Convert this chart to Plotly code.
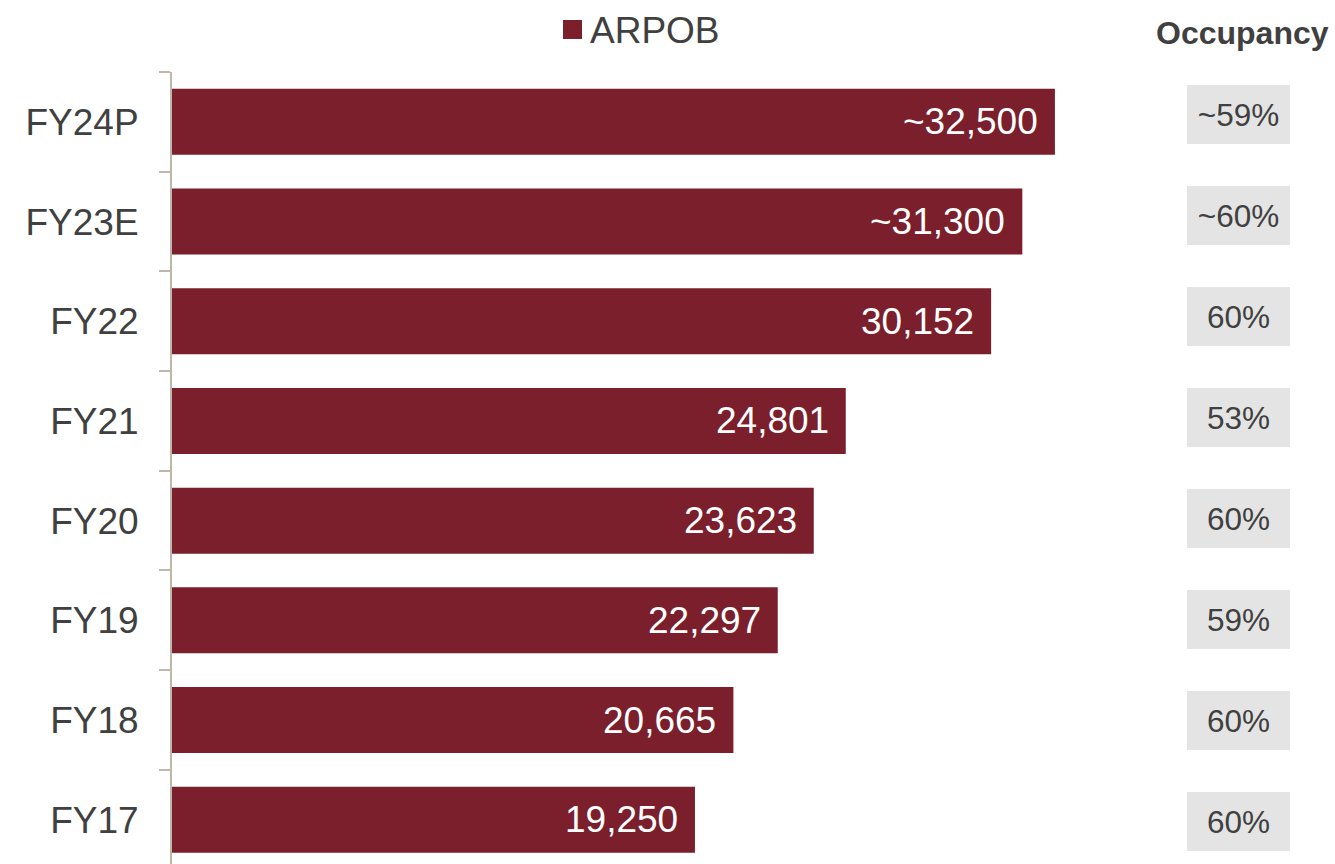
import plotly.graph_objects as go

# Fiscal years, bottom to top
years = ["FY17", "FY18", "FY19", "FY20", "FY21", "FY22", "FY23E", "FY24P"]
arpob = [19250, 20665, 22297, 23623, 24801, 30152, 31300, 32500]
occupancy = [60, 60, 59, 60, 53, 60, 60, 59]
estimated = [False, False, False, False, False, False, True, True]

BAR = "#7A1F2B"
TEXT = "#404040"
BOX = "#E4E4E4"
AXIS = "#BFB7AA"
FONT = "Liberation Sans, Arial, sans-serif"

W, H = 1335, 864
ML, MT = 172, 72
PW, PH = W - ML, H - MT  # plotting paper in px


def px_x(px):
    return (px - ML) / PW


def px_y(px):
    return 1 - (px - MT) / PH


def fmt_num(v, approx):
    return ("~" if approx else "") + f"{v:,}"


def fmt_pct(v, approx):
    return ("~" if approx else "") + f"{v}%"


fig = go.Figure()

fig.add_trace(go.Bar(
    x=arpob, y=years, orientation="h",
    marker=dict(color=BAR, line=dict(width=0)),
    width=0.662, hoverinfo="skip", showlegend=False,
    name="ARPOB",
))

# occupancy column, drawn as filled cells on its own axis pair
fig.add_trace(go.Bar(
    x=[1] * len(years), y=years, orientation="h",
    xaxis="x2", yaxis="y2",
    marker=dict(color=BOX, line=dict(width=0)),
    width=0.584,
    text=[fmt_pct(v, a) for v, a in zip(occupancy, estimated)],
    textposition="inside", insidetextanchor="middle",
    textfont=dict(family=FONT, size=31.5, color=TEXT),
    constraintext="none",
    hoverinfo="skip", showlegend=False,
))

annotations = []
for yr, v, a in zip(years, arpob, estimated):
    annotations.append(dict(
        x=v, y=yr, xref="x", yref="y",
        text=fmt_num(v, a), showarrow=False,
        xanchor="right", yanchor="middle", xshift=-15,
        font=dict(family=FONT, size=37, color="white"),
    ))

annotations.append(dict(
    x=px_x(1242.5), y=px_y(33), xref="paper", yref="paper",
    text="<b>Occupancy</b>", showarrow=False,
    xanchor="center", yanchor="middle",
    font=dict(family=FONT, size=32, color=TEXT),
))
annotations.append(dict(
    x=px_x(588), y=px_y(30), xref="paper", yref="paper",
    text="ARPOB", showarrow=False,
    xanchor="left", yanchor="middle",
    font=dict(family=FONT, size=37, color=TEXT),
))

shapes = [dict(
    type="rect", xref="paper", yref="paper",
    x0=px_x(563), x1=px_x(582), y0=px_y(39), y1=px_y(20),
    fillcolor=BAR, line=dict(width=0),
)]

fig.update_layout(
    width=W, height=H,
    margin=dict(l=ML, r=0, t=MT, b=0),
    paper_bgcolor="white", plot_bgcolor="white",
    font=dict(family=FONT, color=TEXT),
    showlegend=False,
    xaxis=dict(domain=[0, px_x(1150)], range=[0, 36000],
               visible=False, fixedrange=True),
    yaxis=dict(type="category", categoryorder="array", categoryarray=years,
               range=[-0.444, 7.5], tickson="boundaries",
               ticks="outside", ticklen=11, tickwidth=2, tickcolor=AXIS,
               showline=True, linewidth=2, linecolor=AXIS,
               showgrid=False, zeroline=False,
               tickfont=dict(family=FONT, size=37, color=TEXT),
               ticklabelstandoff=24, fixedrange=True),
    xaxis2=dict(domain=[px_x(1187), px_x(1290)], range=[0, 1],
                anchor="y2", visible=False, fixedrange=True),
    yaxis2=dict(type="category", categoryorder="array", categoryarray=years,
                range=[-0.4208, 7.4208], anchor="x2", visible=False,
                fixedrange=True),
    annotations=annotations,
    shapes=shapes,
)

fig.write_html("out.html")
